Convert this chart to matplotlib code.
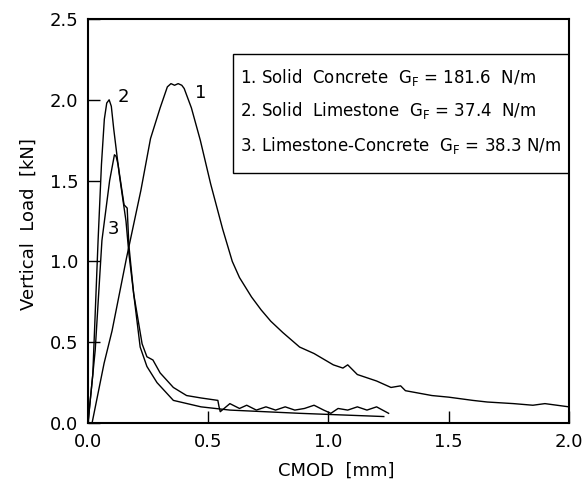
import numpy as np
import matplotlib.pyplot as plt
from matplotlib.patches import Rectangle

# curve 1: solid concrete
cmod_1 = [0.017, 0.067, 0.10, 0.16, 0.22, 0.26, 0.30, 0.33, 0.345, 0.36, 0.375, 0.39,
          0.40, 0.43, 0.467, 0.51, 0.56, 0.60, 0.63, 0.68, 0.72, 0.76, 0.81,
          0.88, 0.94, 1.02, 1.06, 1.08, 1.12, 1.20, 1.26, 1.30, 1.32, 1.43, 1.50,
          1.60, 1.66, 1.77, 1.85, 1.90, 2.0]
load_1 = [0.0, 0.37, 0.57, 1.02, 1.44, 1.76, 1.95, 2.08, 2.10, 2.09, 2.10, 2.09,
          2.07, 1.95, 1.75, 1.48, 1.20, 1.0, 0.90, 0.78, 0.70, 0.63, 0.56,
          0.47, 0.43, 0.36, 0.34, 0.36, 0.30, 0.26, 0.22, 0.23, 0.20, 0.17, 0.16,
          0.14, 0.13, 0.12, 0.11, 0.12, 0.10]

# curve 2: solid limestone
cmod_2 = [0.0, 0.02, 0.042, 0.056, 0.068, 0.078, 0.088, 0.097, 0.107, 0.13, 0.158, 0.17,
          0.19, 0.217, 0.245, 0.287, 0.355, 0.47, 0.59, 0.88, 1.23]
load_2 = [0.0, 0.30, 1.13, 1.60, 1.88, 1.98, 2.00, 1.96, 1.82, 1.54, 1.25, 1.05,
          0.80, 0.47, 0.35, 0.25, 0.14, 0.10, 0.08, 0.06, 0.04]

# curve 3: limestone-concrete
cmod_3 = [0.0, 0.03, 0.058, 0.09, 0.11, 0.117, 0.125, 0.15, 0.163, 0.17, 0.19,
          0.225, 0.245, 0.27, 0.30, 0.355, 0.41, 0.47, 0.54, 0.545, 0.55, 0.59,
          0.63, 0.66, 0.70, 0.74, 0.78, 0.82, 0.86, 0.90, 0.94, 0.98, 1.01,
          1.04, 1.08, 1.12, 1.16, 1.20, 1.25]
load_3 = [0.0, 0.45, 1.13, 1.50, 1.66, 1.65, 1.60, 1.35, 1.33, 1.10, 0.80,
          0.49, 0.41, 0.39, 0.31, 0.22, 0.17, 0.155, 0.14, 0.10, 0.07, 0.12,
          0.09, 0.11, 0.08, 0.10, 0.08, 0.10, 0.08, 0.09, 0.11, 0.08, 0.06,
          0.09, 0.08, 0.10, 0.08, 0.10, 0.06]

legend_lines = [
    r"1. Solid  Concrete  $\mathregular{G_F}$ = 181.6  N/m",
    r"2. Solid  Limestone  $\mathregular{G_F}$ = 37.4  N/m",
    r"3. Limestone-Concrete  $\mathregular{G_F}$ = 38.3 N/m",
]
curve_labels = ["1", "2", "3"]

plt.rcParams["font.family"] = ["DejaVu Sans"]

fig = plt.figure(figsize=(5.85, 4.86), dpi=100)
ax = fig.add_axes([0.1504, 0.1296, 0.8222, 0.8313])

for x, y in [(cmod_1, load_1), (cmod_2, load_2), (cmod_3, load_3)]:
    ax.plot(x, y, color="k", linewidth=1.0)

# curve numbers next to the peaks
ax.text(0.467, 2.04, curve_labels[0], fontsize=13, ha="center", va="center")
ax.text(0.146, 2.02, curve_labels[1], fontsize=13, ha="center", va="center")
ax.text(0.104, 1.20, curve_labels[2], fontsize=13, ha="center", va="center")

# legend box shares the right spine
ax.add_patch(Rectangle((0.604, 1.549), 2.0 - 0.604, 2.284 - 1.549,
                       fill=False, edgecolor="k", linewidth=1.0))
for ypos, line in zip([2.136, 1.932, 1.716], legend_lines):
    ax.text(0.633, ypos, line, fontsize=12, ha="left", va="center")

ax.set_xlim(0, 2.0)
ax.set_ylim(0, 2.5)
ax.set_xticks([0.0, 0.5, 1.0, 1.5, 2.0], ["0.0", "0.5", "1.0", "1.5", "2.0"])
ax.set_yticks([0.0, 0.5, 1.0, 1.5, 2.0, 2.5], ["0.0", "0.5", "1.0", "1.5", "2.0", "2.5"])
ax.tick_params(direction="in", length=8.5, width=1.0, labelsize=13, pad=7)
for s in ax.spines.values():
    s.set_linewidth(1.5)

ax.set_xlabel("CMOD  [mm]", fontsize=13)
ax.set_ylabel("Vertical  Load  [kN]", fontsize=13)
ax.xaxis.set_label_coords(0.516, -0.095)
ax.yaxis.set_label_coords(-0.105, 0.493)

fig.savefig("out.png", dpi=100)
